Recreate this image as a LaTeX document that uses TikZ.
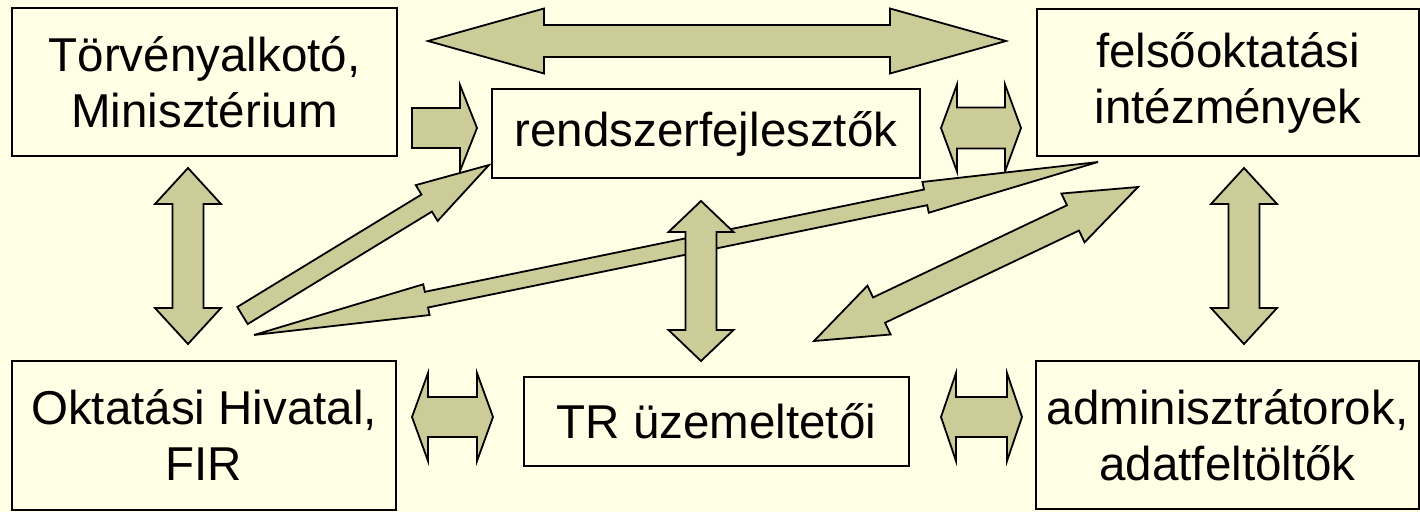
\documentclass[tikz,border=0pt]{standalone}
\usepackage{fontspec}
\setmainfont{Liberation Sans}
\usetikzlibrary{calc}
\definecolor{hatter}{HTML}{FFFFE5}
\definecolor{olajzold}{HTML}{CCCC99}
\tikzset{
  doboz/.style={draw, line width=1.8pt, inner sep=0pt, align=center,
    font=\fontsize{47.5}{56}\selectfont},
  nyil/.style={draw, fill=olajzold, line width=1.8pt},
}
% ketiranyu blokknyil: #1 kezdet, #2 veg, #3 fej hossza, #4 fel szar, #5 fel fej
\newcommand{\ketnyil}[5]{%
  \filldraw[nyil] (#1)
    -- ($(#1)!#3!(#2)!#5!90:(#2)$)
    -- ($(#1)!#3!(#2)!#4!90:(#2)$)
    -- ($(#2)!#3!(#1)!#4!-90:(#1)$)
    -- ($(#2)!#3!(#1)!#5!-90:(#1)$)
    -- (#2)
    -- ($(#2)!#3!(#1)!#5!90:(#1)$)
    -- ($(#2)!#3!(#1)!#4!90:(#1)$)
    -- ($(#1)!#3!(#2)!#4!-90:(#2)$)
    -- ($(#1)!#3!(#2)!#5!-90:(#2)$)
    -- cycle;}
% egyiranyu blokknyil
\newcommand{\egynyil}[5]{%
  \filldraw[nyil] ($(#1)!#4!90:(#2)$)
    -- ($(#2)!#3!(#1)!#4!-90:(#1)$)
    -- ($(#2)!#3!(#1)!#5!-90:(#1)$)
    -- (#2)
    -- ($(#2)!#3!(#1)!#5!90:(#1)$)
    -- ($(#2)!#3!(#1)!#4!90:(#1)$)
    -- ($(#1)!#4!-90:(#2)$)
    -- cycle;}
\begin{document}
\begin{tikzpicture}[x=1pt, y=-1pt]
    \fill[hatter] (0,0) rectangle (1420,512);
    \useasboundingbox (0,0) rectangle (1420,512);
    % dobozok
    \node[doboz, minimum width=385pt, minimum height=148pt] (torv) at (204.5,82) {Törvényalkotó,\\Minisztérium};
    \node[doboz, minimum width=428pt, minimum height=89pt] (rend) at (706,133.5) {rendszerfejlesztők};
    \node[doboz, minimum width=382pt, minimum height=147pt] (felso) at (1228,82.5) {felsőoktatási\\intézmények};
    \node[doboz, minimum width=384pt, minimum height=149pt] (ohiv) at (204,435.5) {Oktatási Hivatal,\\FIR};
    \node[doboz, minimum width=385pt, minimum height=89pt] (tr) at (716.5,421.5) {TR üzemeltetői};
    \node[doboz, minimum width=383pt, minimum height=148pt] (adm) at (1227.5,435) {adminisztrátorok,\\adatfeltöltők};
    % nyilak vegpontjai
    \coordinate (fa) at (428,41);   \coordinate (fb) at (1006,41);
    \coordinate (ta) at (412,128);  \coordinate (tb) at (477,128);
    \coordinate (ra) at (941,128);  \coordinate (rb) at (1021,128);
    \coordinate (la) at (188,168);  \coordinate (lb) at (188,344);
    \coordinate (ka) at (701,201);  \coordinate (kb) at (701,361);
    \coordinate (ja) at (1244,168); \coordinate (jb) at (1244,344);
    \coordinate (aa) at (412,417);  \coordinate (ab) at (493,417);
    \coordinate (ba) at (941,417);  \coordinate (bb) at (1022,417);
    \coordinate (d1a) at (242.5,315.5); \coordinate (d1b) at (489,165);
    \coordinate (d2a) at (254,335);     \coordinate (d2b) at (1098,162);
    \coordinate (d3a) at (814,341);     \coordinate (d3b) at (1138,187);
    % nyilak
    \ketnyil{fa}{fb}{116pt}{16pt}{32.5pt}
    \egynyil{ta}{tb}{17pt}{20pt}{43pt}
    \ketnyil{ra}{rb}{16pt}{20.5pt}{43.5pt}
    \ketnyil{la}{lb}{36pt}{15.5pt}{33pt}
    \ketnyil{ja}{jb}{36pt}{15.5pt}{33pt}
    \ketnyil{aa}{ab}{16pt}{20pt}{44pt}
    \ketnyil{ba}{bb}{15pt}{20pt}{44pt}
    \egynyil{d1a}{d1b}{73pt}{10pt}{21pt}
    \ketnyil{d2a}{d2b}{176pt}{8pt}{15.7pt}
    \ketnyil{d3a}{d3b}{72pt}{14pt}{27pt}
    \ketnyil{ka}{kb}{31pt}{15.5pt}{32.5pt}
\end{tikzpicture}
\end{document}
